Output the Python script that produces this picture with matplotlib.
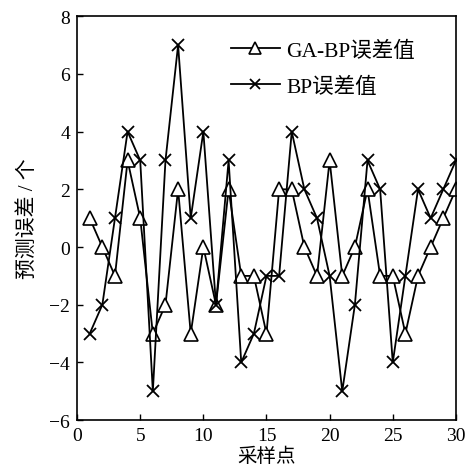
import matplotlib
matplotlib.use("Agg")
import matplotlib.pyplot as plt

plt.rcParams['font.family'] = ['Liberation Serif', 'Noto Sans CJK SC']

x = list(range(1, 31))
ga_bp = [1, 0, -1, 3, 1, -3, -2, 2, -3, 0,
         -2, 2, -1, -1, -3, 2, 2, 0, -1, 3,
         -1, 0, 2, -1, -1, -3, -1, 0, 1, 2]
bp = [-3, -2, 1, 4, 3, -5, 3, 7, 1, 4,
      -2, 3, -4, -3, -1, -1, 4, 2, 1, -1,
      -5, -2, 3, 2, -4, -1, 2, 1, 2, 3]
xticks = [0, 5, 10, 15, 20, 25, 30]
yticks = [-6, -4, -2, 0, 2, 4, 6, 8]

fig = plt.figure(figsize=(4.70, 4.77), dpi=100)
ax = fig.add_axes([0.164, 0.117, 0.806, 0.847])

ax.plot(x, ga_bp, color='black', lw=1.3, marker='^', markersize=10,
        markerfacecolor='white', markeredgecolor='black', markeredgewidth=1.2,
        label='GA-BP误差值')
ax.plot(x, bp, color='black', lw=1.3, marker='x', markersize=9,
        markeredgewidth=1.3, label='BP误差值')

ax.set_xlim(0, 30)
ax.set_ylim(-6, 8)
ax.set_xticks(xticks)
ax.set_yticks(yticks)
ax.set_yticklabels([str(v).replace('-', '\u2212') for v in yticks])
ax.tick_params(direction='in', length=4, width=1, labelsize=14, pad=5)
for s in ax.spines.values():
    s.set_linewidth(1.2)

ax.set_xlabel('采样点', fontsize=14, labelpad=2)
ax.set_ylabel('预测误差 / 个', fontsize=15, labelpad=8)

leg = ax.legend(loc='upper left', bbox_to_anchor=(0.405, 0.94), frameon=False,
                fontsize=15.5, handlelength=2.3, handletextpad=0.3,
                labelspacing=0.75, borderaxespad=0, borderpad=0,
                markerscale=0.8)

fig.savefig('out.png', dpi=100)
